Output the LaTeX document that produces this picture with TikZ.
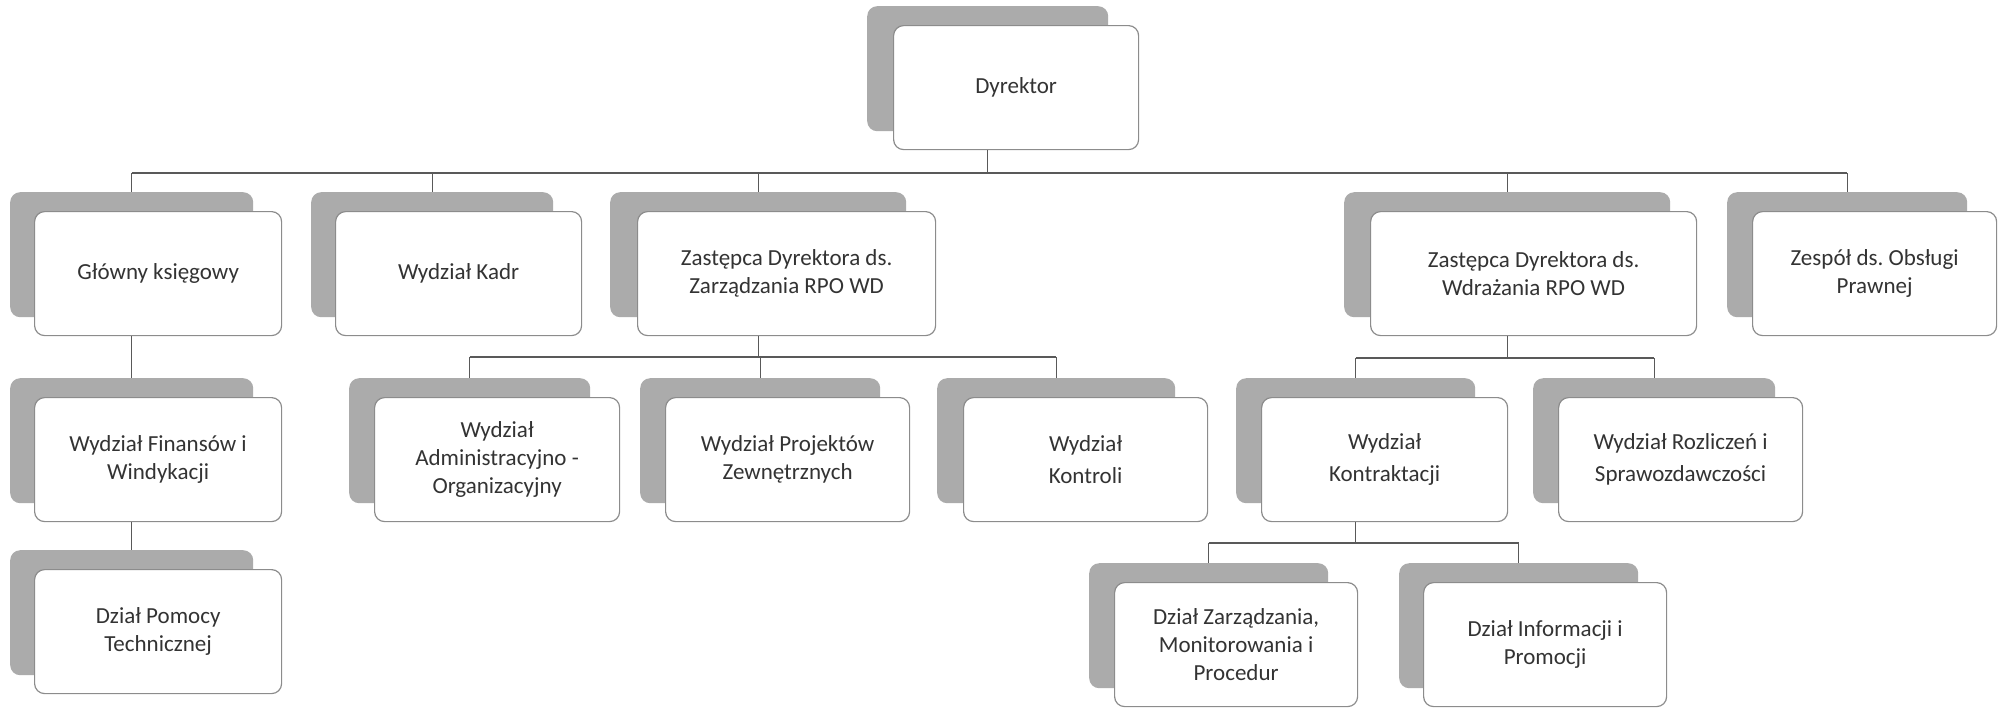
\documentclass[tikz,border=0pt]{standalone}
\usepackage{fontspec}
\setmainfont{Carlito}
\usepackage{xcolor}
\frenchspacing

\tikzset{
    back/.style={rounded corners=10pt, fill=black!33, minimum height=125pt, inner sep=0pt, anchor=north west},
    card/.style={rounded corners=10pt, draw=black!45, line width=1.2pt, fill=white, minimum height=124pt,
        inner sep=0pt, anchor=north west, align=center, text=black!80, font=\fontsize{23}{28}\selectfont},
    link/.style={draw=black!65, line width=1.3pt}
}

\begin{document}
\begin{tikzpicture}[x=1pt, y=-1pt]
        \useasboundingbox (0,0) rectangle (1999,707);

        \coordinate (bus1) at (0,173);
        \coordinate (bus2) at (0,357);
        \coordinate (bus3) at (0,358);
        \coordinate (bus4) at (0,543);

        % Dyrektor
        \node[back, minimum width=241pt] (dyr) at (867,6) {};
        \node[card, minimum width=245pt] (dyrc) at ([shift={(26,19)}]dyr.north west) {Dyrektor};

        % second row
        \node[back, minimum width=243pt] (gk) at (10,192) {};
        \node[card, minimum width=247pt] (gkc) at ([shift={(24,19)}]gk.north west) {Główny księgowy};
        \node[back, minimum width=242pt] (kadr) at (311,192) {};
        \node[card, minimum width=246pt] (kadrc) at ([shift={(24,19)}]kadr.north west) {Wydział Kadr};
        \node[back, minimum width=296pt] (zzr) at (610,192) {};
        \node[card, minimum width=298pt] (zzrc) at ([shift={(27,19)}]zzr.north west) {Zastępca Dyrektora ds.\\Zarządzania RPO WD};
        \node[back, minimum width=326pt] (zwd) at (1344,192) {};
        \node[card, minimum width=326pt] (zwdc) at ([shift={(26,19)}]zwd.north west) {Zastępca Dyrektora ds.\\Wdrażania RPO WD};
        \node[back, minimum width=240pt] (zesp) at (1727,192) {};
        \node[card, minimum width=244pt] (zespc) at ([shift={(25,19)}]zesp.north west) {Zespół ds. Obsługi\\Prawnej};

        % third row
        \node[back, minimum width=243pt] (fin) at (10,378) {};
        \node[card, minimum width=247pt] (finc) at ([shift={(24,19)}]fin.north west) {Wydział Finansów i\\Windykacji};
        \node[back, minimum width=241pt] (adm) at (349,378) {};
        \node[card, minimum width=245pt] (admc) at ([shift={(25,19)}]adm.north west) {Wydział\\Administracyjno -\\Organizacyjny};
        \node[back, minimum width=240pt] (proj) at (640,378) {};
        \node[card, minimum width=244pt] (projc) at ([shift={(25,19)}]proj.north west) {Wydział Projektów\\Zewnętrznych};
        \node[back, minimum width=238pt] (kontr) at (937,378) {};
        \node[card, minimum width=244pt] (kontrc) at ([shift={(26,19)}]kontr.north west) {Wydział\\[4pt]Kontroli};
        \node[back, minimum width=239pt] (kontrakt) at (1236,378) {};
        \node[card, minimum width=246pt] (kontraktc) at ([shift={(25,19)}]kontrakt.north west) {Wydział\\[4pt]Kontraktacji};
        \node[back, minimum width=242pt] (rozl) at (1533,378) {};
        \node[card, minimum width=244pt] (rozlc) at ([shift={(25,19)}]rozl.north west) {Wydział Rozliczeń i\\[4pt]Sprawozdawczości};

        % bottom row
        \node[back, minimum width=243pt] (pomoc) at (10,550) {};
        \node[card, minimum width=247pt] (pomocc) at ([shift={(24,19)}]pomoc.north west) {Dział Pomocy\\Technicznej};
        \node[back, minimum width=239pt] (zmp) at (1089,563) {};
        \node[card, minimum width=243pt] (zmpc) at ([shift={(25,19)}]zmp.north west) {Dział Zarządzania,\\Monitorowania i\\Procedur};
        \node[back, minimum width=239pt] (info) at (1399,563) {};
        \node[card, minimum width=243pt] (infoc) at ([shift={(24,19)}]info.north west) {Dział Informacji i\\Promocji};

        % connectors
        \draw[link] (dyr |- dyrc.south) -- (dyr |- bus1);
        \draw[link] (gk |- bus1) -- (zesp |- bus1);
        \draw[link] (gk |- bus1) -- (gk.north);
        \draw[link] (kadr |- bus1) -- (kadr.north);
        \draw[link] (zzr |- bus1) -- (zzr.north);
        \draw[link] (zwd |- bus1) -- (zwd.north);
        \draw[link] (zesp |- bus1) -- (zesp.north);

        \draw[link] (gk |- gkc.south) -- (fin.north);
        \draw[link] (fin |- finc.south) -- (pomoc.north);

        \draw[link] (zzr |- zzrc.south) -- (zzr |- bus2);
        \draw[link] (adm |- bus2) -- (kontr |- bus2);
        \draw[link] (adm |- bus2) -- (adm.north);
        \draw[link] (proj |- bus2) -- (proj.north);
        \draw[link] (kontr |- bus2) -- (kontr.north);

        \draw[link] (zwd |- zwdc.south) -- (zwd |- bus3);
        \draw[link] (kontrakt |- bus3) -- (rozl |- bus3);
        \draw[link] (kontrakt |- bus3) -- (kontrakt.north);
        \draw[link] (rozl |- bus3) -- (rozl.north);

        \draw[link] (kontrakt |- kontraktc.south) -- (kontrakt |- bus4);
        \draw[link] (zmp |- bus4) -- (info |- bus4);
        \draw[link] (zmp |- bus4) -- (zmp.north);
        \draw[link] (info |- bus4) -- (info.north);
    \end{tikzpicture}
\end{document}
